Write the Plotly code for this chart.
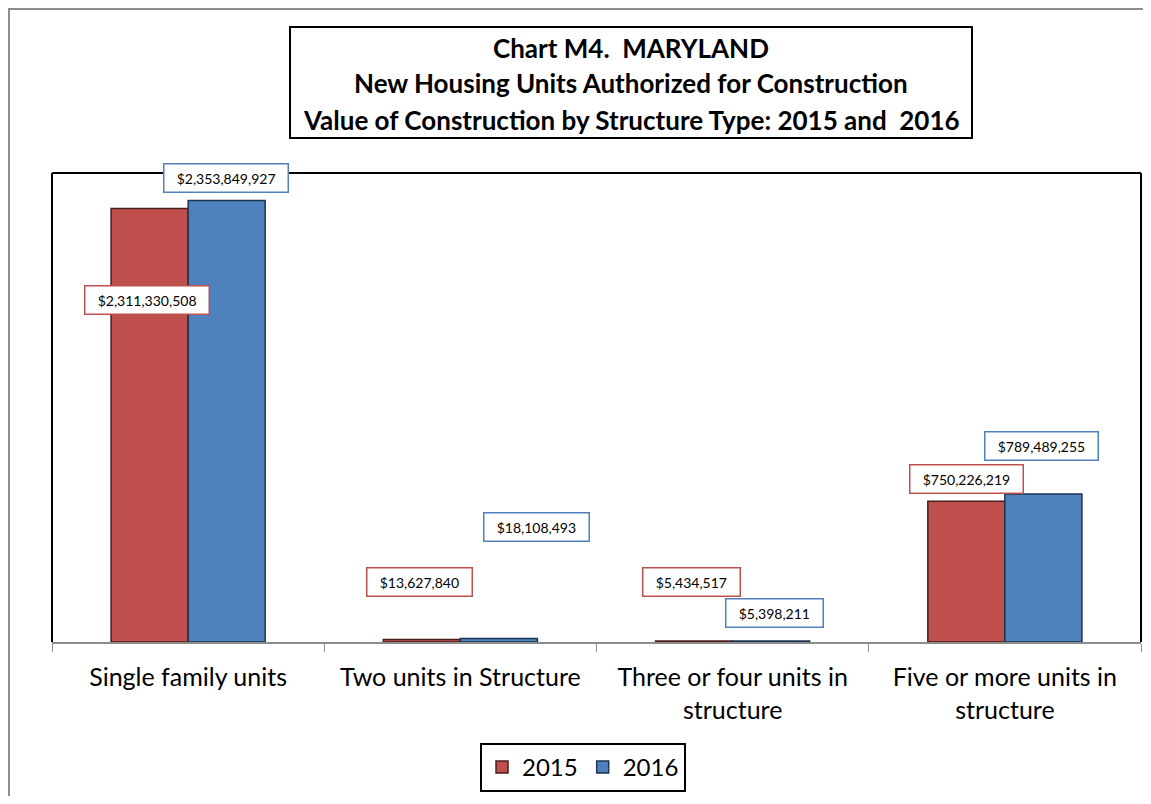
import plotly.graph_objects as go

# chart data
categories = ["Single family units", "Two units in Structure",
              "Three or four units in<br>structure", "Five or more units in<br>structure"]
years = ["2015", "2016"]
values_2015 = [2311330508, 13627840, 5434517, 750226219]
values_2016 = [2353849927, 18108493, 5398211, 789489255]

title_lines = ["Chart M4.  MARYLAND",
               "New Housing Units Authorized for Construction",
               "Value of Construction by Structure Type: 2015 and  2016"]

# label offsets (pixels from bar value point), Excel labels were moved by hand
offsets_2015 = [(-41, -92), (-41, 57), (-41, 59), (-38, 22)]
offsets_2016 = [(38, 22), (76, 112), (42, 28), (37, 48)]

RED = "#C0504D"
BLUE = "#4F81BD"
FONT = "Lato"

# plot area on screen: left 52, top 173, width 1089, height 469
def px_x(sx):
    return (sx - 52) / 1089


def px_y(sy):
    return (642 - sy) / 469


fig = go.Figure()
fig.add_trace(go.Bar(x=categories, y=values_2015, name=years[0],
                     marker=dict(color=RED, line=dict(color="#4a1e1d", width=1.5))))
fig.add_trace(go.Bar(x=categories, y=values_2016, name=years[1],
                     marker=dict(color=BLUE, line=dict(color="#1d3550", width=1.5))))


def fmt(v):
    pad = "\u00a0\u00a0"
    return pad + "${:,}".format(v) + pad


annotations = []
for vals, offs, col in [(values_2015, offsets_2015, RED), (values_2016, offsets_2016, BLUE)]:
    for cat, v, (dx, dy) in zip(categories, vals, offs):
        annotations.append(dict(
            x=cat, y=v, xref="x", yref="y", xshift=dx, yshift=dy,
            text=fmt(v), showarrow=False,
            font=dict(family=FONT, size=14, color="black"),
            bgcolor="white", bordercolor=col, borderwidth=1.5, borderpad=5,
        ))

# title text (three lines in a box)
for line, ypx in zip(title_lines, [48, 83, 120]):
    annotations.append(dict(
        x=px_x(631), y=px_y(ypx), xref="paper", yref="paper",
        text="<b>" + line + "</b>", showarrow=False,
        font=dict(family=FONT, size=26, color="black"),
        xanchor="center", yanchor="middle",
    ))

shapes = [
    # outer chart frame
    dict(type="rect", xref="paper", yref="paper", x0=px_x(9), y0=-0.5, x1=1.2, y1=px_y(9),
         line=dict(color="#8c8c8c", width=2)),
    # title box
    dict(type="rect", xref="paper", yref="paper", x0=px_x(290), y0=px_y(138), x1=px_x(972), y1=px_y(27),
         line=dict(color="black", width=2)),
    # plot area frame (left, top, right)
    dict(type="line", xref="paper", yref="paper", x0=0, y0=0, x1=0, y1=1, line=dict(color="black", width=2)),
    dict(type="line", xref="paper", yref="paper", x0=0, y0=1, x1=1, y1=1, line=dict(color="black", width=2)),
    dict(type="line", xref="paper", yref="paper", x0=1, y0=0, x1=1, y1=1, line=dict(color="black", width=2)),
]

fig.update_layout(
    # page body adds 8px around the figure, so keep it inside the window
    width=1135, height=788,
    margin=dict(l=44, r=2, t=165, b=154),
    paper_bgcolor="white", plot_bgcolor="white",
    barmode="group", bargap=0.434, bargroupgap=0,
    font=dict(family=FONT, color="black"),
    showlegend=True,
    legend=dict(orientation="h", x=px_x(583), xanchor="center", y=px_y(743), yanchor="top",
                bordercolor="black", borderwidth=2, bgcolor="white",
                font=dict(family=FONT, size=24, color="black"),
                itemwidth=30, tracegroupgap=0),
    xaxis=dict(showline=True, linecolor="#8c8c8c", linewidth=2,
               ticks="outside", tickson="boundaries", ticklen=8, tickcolor="#8c8c8c",
               ticklabelstandoff=12,
               tickfont=dict(family=FONT, size=25, color="black"), showgrid=False),
    yaxis=dict(range=[0, 2.5e9], visible=False, showgrid=False, zeroline=False),
    annotations=annotations,
    shapes=shapes,
)

fig.write_html("out.html")
